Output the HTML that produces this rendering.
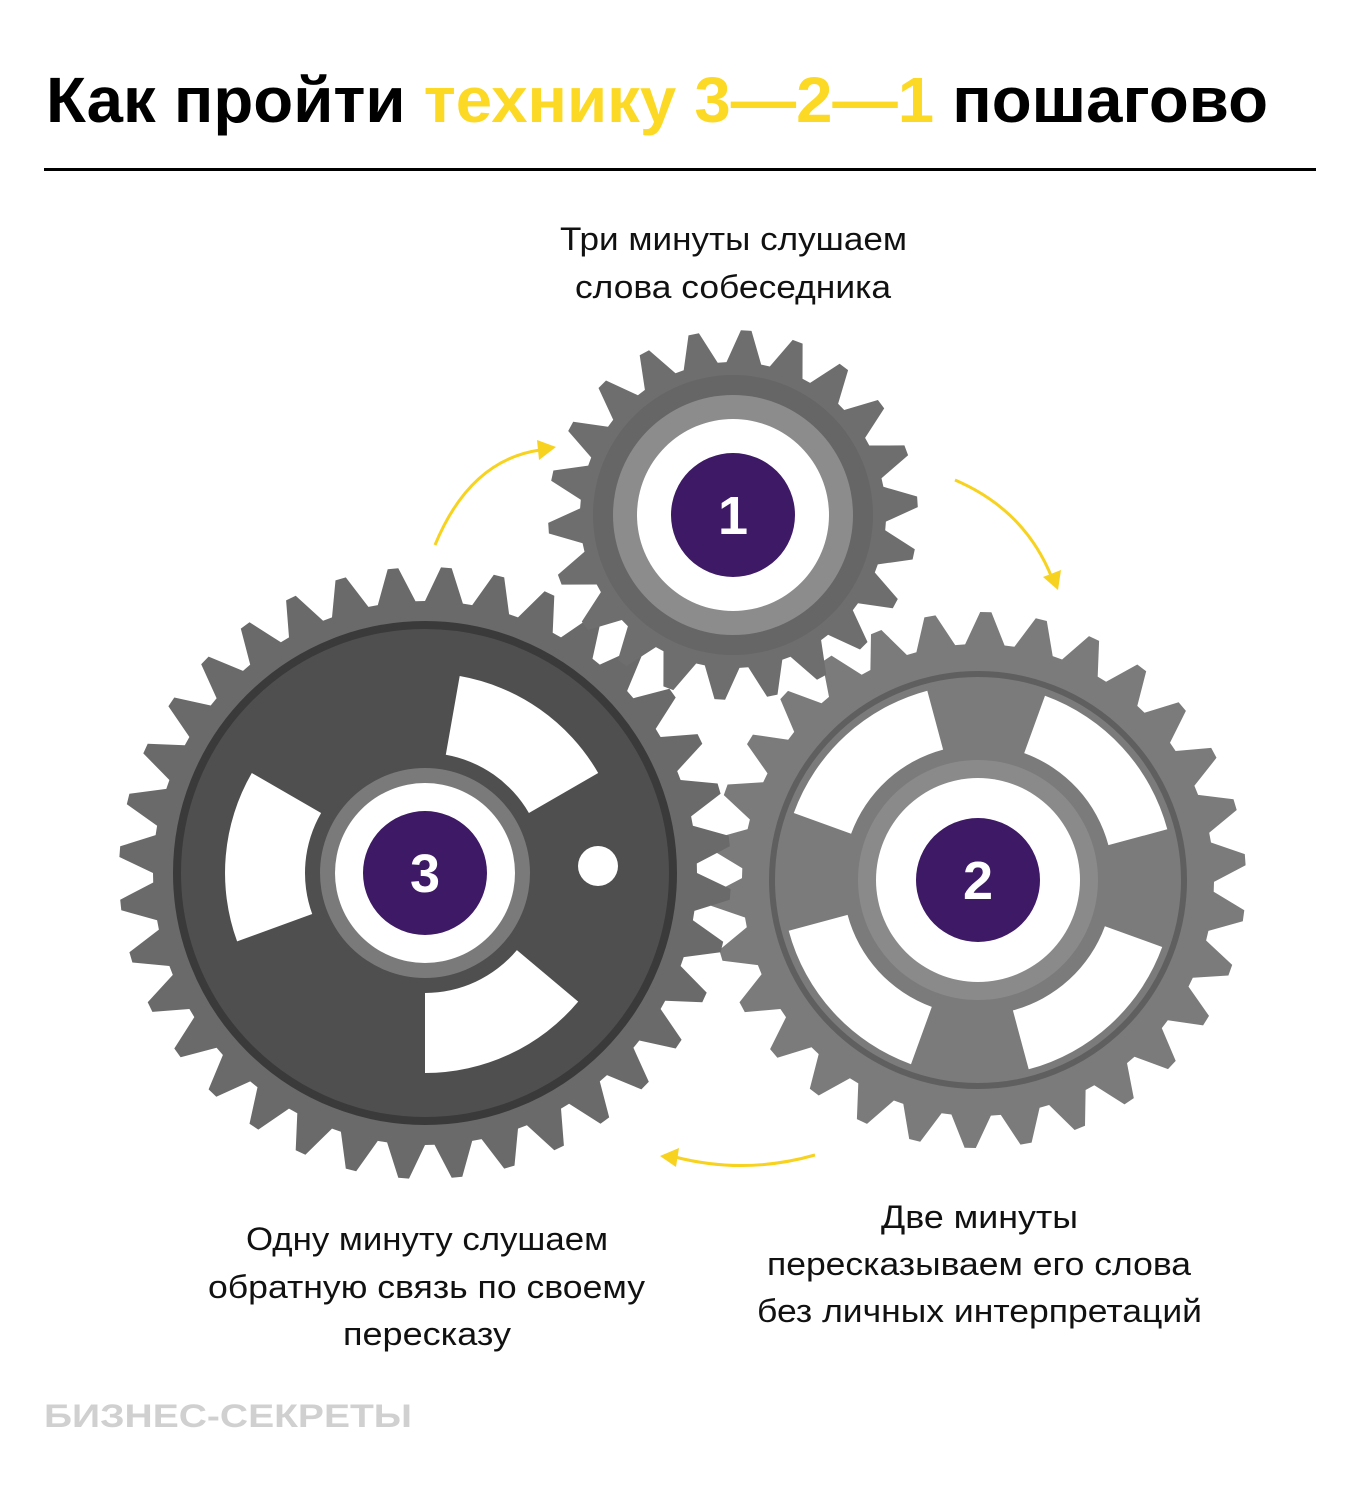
<!DOCTYPE html>
<html><head><meta charset="utf-8"><style>
html,body{margin:0;padding:0;background:#fff}
svg{display:block}
text{font-family:"Liberation Sans",sans-serif}
</style></head><body>
<svg id="s" width="1360" height="1492" viewBox="0 0 1360 1492" xmlns="http://www.w3.org/2000/svg">
<rect width="1360" height="1492" fill="#fff"/>
<text x="46" y="122" font-size="64" font-weight="bold" textLength="1222" lengthAdjust="spacingAndGlyphs" fill="#000">Как пройти <tspan fill="#fbd924">технику 3—2—1</tspan> пошагово</text>
<rect x="44" y="168" width="1272" height="3" fill="#000"/>
<g id="gears"></g>
<g font-size="32" fill="#111">
<text x="560" y="250" textLength="347" lengthAdjust="spacingAndGlyphs">Три минуты слушаем</text>
<text x="575" y="298" textLength="316" lengthAdjust="spacingAndGlyphs">слова собеседника</text>
<text x="246" y="1250" textLength="362" lengthAdjust="spacingAndGlyphs">Одну минуту слушаем</text>
<text x="208" y="1298" textLength="437" lengthAdjust="spacingAndGlyphs">обратную связь по своему</text>
<text x="343" y="1345" textLength="168" lengthAdjust="spacingAndGlyphs">пересказу</text>
<text x="881" y="1228" textLength="197" lengthAdjust="spacingAndGlyphs">Две минуты</text>
<text x="767" y="1275" textLength="424" lengthAdjust="spacingAndGlyphs">пересказываем его слова</text>
<text x="757" y="1322" textLength="445" lengthAdjust="spacingAndGlyphs">без личных интерпретаций</text>
</g>
<text x="44" y="1427" font-size="32" font-weight="bold" fill="#d0d0d0" textLength="368" lengthAdjust="spacingAndGlyphs">БИЗНЕС-СЕКРЕТЫ</text>
<g fill="none" stroke="#f7d21e" stroke-width="3">
<path d="M435 545 Q470 460 540 450"/>
<path d="M955 480 Q1025 510 1052 578"/>
<path d="M815 1155 Q745 1175 675 1157"/>
</g>
<g fill="#f7d21e">
<polygon points="556,447 537,440 539,460"/>
<polygon points="1058,590 1043,577 1061,570"/>
<polygon points="660,1156 679,1148 676,1167"/>
</g>
</svg>
<script>
var NS="http://www.w3.org/2000/svg",G=document.getElementById("gears");
function el(t,a){var e=document.createElementNS(NS,t);for(var k in a)e.setAttribute(k,a[k]);G.appendChild(e);return e;}
function gear(cx,cy,ro,ri,n,fill,rot){
 var d="",p=2*Math.PI/n;
 for(var i=0;i<n;i++){var a=i*p+(rot||0);
  var pts=[[ri,a],[ro,a+p*0.3],[ro,a+p*0.5],[ri,a+p*0.8]];
  pts.forEach(function(q,j){var x=cx+q[0]*Math.cos(q[1]),y=cy+q[0]*Math.sin(q[1]);d+=(i==0&&j==0?"M":"L")+x.toFixed(1)+" "+y.toFixed(1);});}
 el("path",{d:d+"Z",fill:fill});}
function win(cx,cy,r1,r2,a1,a2){var f=function(r,a){return (cx+r*Math.cos(a)).toFixed(1)+" "+(cy+r*Math.sin(a)).toFixed(1)};
 el("path",{d:"M"+f(r1,a1)+"L"+f(r2,a1)+"A"+r2+" "+r2+" 0 0 1 "+f(r2,a2)+"L"+f(r1,a2)+"A"+r1+" "+r1+" 0 0 0 "+f(r1,a1)+"Z",fill:"#fff"});}
var D=Math.PI/180;
// gear 2
gear(978,880,268,236,30,"#7b7b7b",0.05);
el("circle",{cx:978,cy:880,r:206,fill:"none",stroke:"#5f5f5f","stroke-width":6});
[[-70,-15],[20,75],[110,165],[200,255]].forEach(function(a){win(978,880,135,196,a[0]*D,a[1]*D);});
el("circle",{cx:978,cy:880,r:120,fill:"#8a8a8a"});
el("circle",{cx:978,cy:880,r:102,fill:"#fff"});
// gear 3
gear(425,873,306,272,36,"#6a6a6a",0);
el("circle",{cx:425,cy:873,r:248,fill:"#4f4f4f",stroke:"#3a3a3a","stroke-width":8});
[[-80,-30],[40,90],[160,210]].forEach(function(a){win(425,873,120,200,a[0]*D,a[1]*D);});
el("circle",{cx:598,cy:866,r:20,fill:"#fff"});
el("circle",{cx:425,cy:873,r:105,fill:"#7a7a7a"});
el("circle",{cx:425,cy:873,r:90,fill:"#fff"});
// gear 1
gear(733,515,185,153,22,"#6e6e6e",0.1);
el("circle",{cx:733,cy:515,r:140,fill:"#666"});
el("circle",{cx:733,cy:515,r:120,fill:"#8c8c8c"});
el("circle",{cx:733,cy:515,r:96,fill:"#fff"});
// purple
[[733,515,"1"],[978,880,"2"],[425,873,"3"]].forEach(function(c){
 el("circle",{cx:c[0],cy:c[1],r:62,fill:"#3e1a66"});
 var t=el("text",{x:c[0],y:c[1]+19,"text-anchor":"middle","font-size":54,"font-weight":"bold",fill:"#fff"});t.textContent=c[2];});
</script>
</body></html>
